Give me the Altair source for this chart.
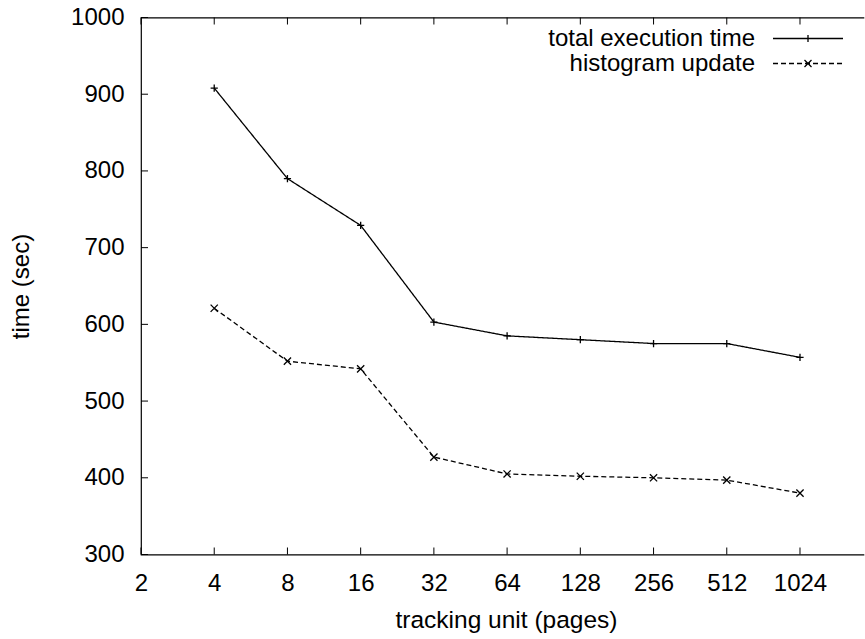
import altair as alt
import pandas as pd

# ---- data ----
tracking_units = [4, 8, 16, 32, 64, 128, 256, 512, 1024]
total_execution_time = [908, 790, 729, 603, 585, 580, 575, 575, 557]
histogram_update = [621, 552, 542, 427, 405, 402, 400, 397, 380]
series_names = ["total execution time", "histogram update"]
x_tick_values = [2, 4, 8, 16, 32, 64, 128, 256, 512, 1024]
y_tick_values = [300, 400, 500, 600, 700, 800, 900, 1000]

rows = []
for u, t, h in zip(tracking_units, total_execution_time, histogram_update):
    rows.append({"unit": u, "time": t, "series": series_names[0]})
    rows.append({"unit": u, "time": h, "series": series_names[1]})
df = pd.DataFrame(rows)
x_ticks_df = pd.DataFrame({"unit": x_tick_values})
y_ticks_df = pd.DataFrame({"time": y_tick_values})

FONT = "Liberation Sans"
W, H = 723, 537
TICK = 7

plus_path = "M-1,0L1,0M0,-1L0,1"
cross_path = "M-1,-1L1,1M-1,1L1,-1"
# legend symbols: sample line drawn to the right of the (right-aligned) label
legend_plus = "M3,0L10,0M6.5,-0.35L6.5,0.35"
dash_segments = []
s = 3.0
while s < 10.0:
    e = min(s + 0.5, 10.0)
    dash_segments.append(f"M{s:.2f},0L{e:.2f},0")
    s += 0.8
legend_cross = "".join(dash_segments) + "M6.15,-0.35L6.85,0.35M6.15,0.35L6.85,-0.35"

x_scale = alt.Scale(type="log", base=2, domain=[2, 1877], nice=False)
y_scale = alt.Scale(domain=[300, 1000], nice=False, zero=False)

x_axis = alt.Axis(
    values=x_tick_values, format="d", domain=False, ticks=False, grid=False,
    labelFont=FONT, labelFontSize=24, labelColor="black", labelPadding=17,
    labelFlush=False, labelOverlap=False,
    title="tracking unit (pages)", titleFont=FONT, titleFontSize=24.5,
    titleFontWeight="normal", titleColor="black", titleBaseline="alphabetic",
    titleX=365, titleY=73,
)
y_axis = alt.Axis(
    values=y_tick_values, format="d", domain=False, ticks=False, grid=False,
    labelFont=FONT, labelFontSize=24, labelColor="black", labelPadding=17,
    labelFlush=False, labelOverlap=False,
    title="time (sec)", titleFont=FONT, titleFontSize=24,
    titleFontWeight="normal", titleColor="black", titleBaseline="alphabetic",
    titleX=-113, titleY=H / 2, titleAngle=270,
)
x_enc = alt.X("unit:Q", scale=x_scale, axis=x_axis)
y_enc = alt.Y("time:Q", scale=y_scale, axis=y_axis)

dash_scale = alt.Scale(domain=series_names, range=[[1, 0], [5, 3]])

base = alt.Chart(df)

# inward tick marks (gnuplot style), positioned through the shared scales
x_ticks_bottom = alt.Chart(x_ticks_df).mark_rule(color="black", strokeWidth=1).encode(
    x=x_enc, y=alt.value(H), y2=alt.value(H - TICK),
)
x_ticks_top = alt.Chart(x_ticks_df).mark_rule(color="black", strokeWidth=1).encode(
    x=x_enc, y=alt.value(0), y2=alt.value(TICK),
)
y_ticks_left = alt.Chart(y_ticks_df).mark_rule(color="black", strokeWidth=1).encode(
    y=y_enc, x=alt.value(0), x2=alt.value(TICK),
)

lines = base.mark_line(color="black", strokeWidth=1.3).encode(
    x=x_enc, y=y_enc,
    strokeDash=alt.StrokeDash("series:N", scale=dash_scale, legend=None),
    detail="series:N",
)

markers = base.mark_point(color="black", filled=False, size=52, strokeWidth=1.3, opacity=1).encode(
    x=x_enc, y=y_enc,
    shape=alt.Shape("series:N", scale=alt.Scale(domain=series_names, range=[plus_path, cross_path]), legend=None),
)

legend_carrier = base.mark_point(color="black", filled=False, strokeWidth=1.3, opacity=0).encode(
    x=x_enc, y=y_enc,
    shape=alt.Shape(
        "series:N",
        scale=alt.Scale(domain=series_names, range=[legend_plus, legend_cross]),
        legend=alt.Legend(
            title=None, orient="none", legendX=590, legendY=9,
            labelFont=FONT, labelFontSize=24, labelColor="black", labelAlign="right",
            labelOffset=0, labelLimit=400, symbolSize=400, symbolStrokeWidth=1.3,
            symbolStrokeColor="black", symbolOffset=0, rowPadding=1,
            padding=0,
        ),
    ),
)

chart = (
    alt.layer(x_ticks_bottom, x_ticks_top, y_ticks_left, lines, markers, legend_carrier)
    .resolve_scale(shape="independent")
    .properties(
        width=W, height=H,
        autosize=alt.AutoSizeParams(type="none"),
        padding={"left": 141, "top": 17.5, "right": 1, "bottom": 84.5},
        background="white",
    )
    .configure_view(stroke="black", strokeWidth=1.2, strokeDash=[723, 537, 1260, 0])
)

chart.save("out.html", embed_options={"renderer": "svg", "actions": False})
